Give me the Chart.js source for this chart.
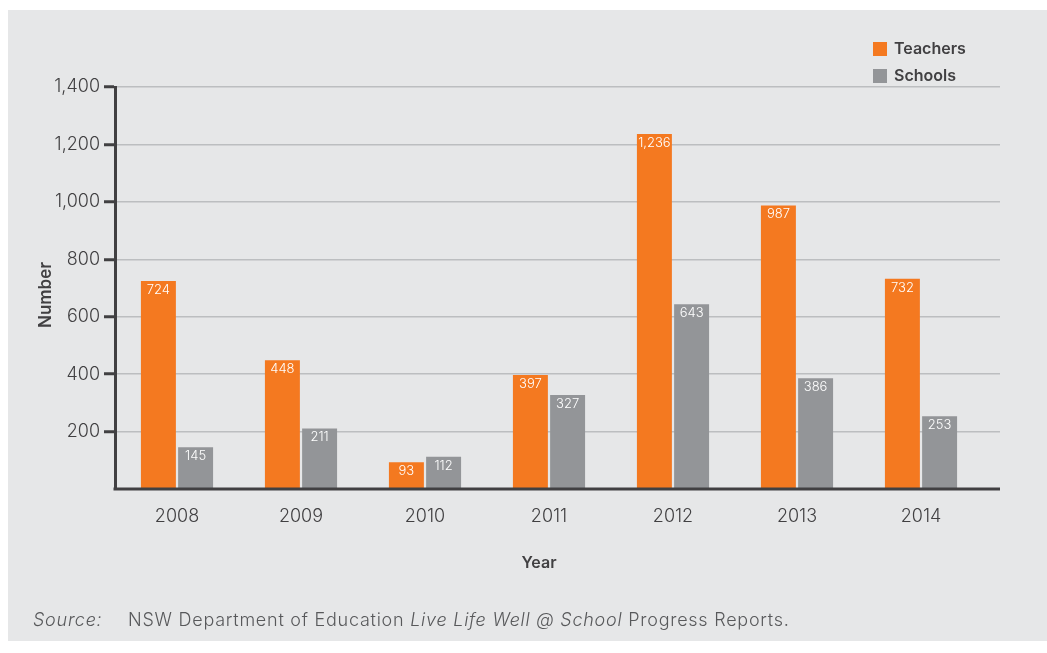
<!DOCTYPE html>
<html>
<head>
<meta charset="utf-8">
<script src="https://cdn.jsdelivr.net/npm/chart.js@4.4.1/dist/chart.umd.min.js"></script>
<style>
  html, body { margin: 0; padding: 0; background: #ffffff; }
  #panel {
    position: absolute; left: 8px; top: 10px; width: 1039px; height: 631px;
    background: #e6e7e8;
  }
  #wrap { position: absolute; left: 0; top: 0; width: 1047px; height: 653px; }
  #source {
    position: absolute; left: 33px; top: 609px;
    font-family: "Inter", "Noto Sans", sans-serif; font-size: 18px; color: #58595b;
    white-space: nowrap; font-weight: 300; letter-spacing: 0.75px;
  }
  #source .lbl { font-style: italic; display: inline-block; width: 95px; }
  #source i { font-style: italic; }
</style>
</head>
<body>
<div id="panel"></div>
<div id="wrap"><canvas id="chart" width="1047" height="653"></canvas></div>
<div id="source"><span class="lbl">Source:</span>NSW Department of Education <i>Live Life Well @ School</i> Progress Reports.</div>
<script>
const years = ['2008', '2009', '2010', '2011', '2012', '2013', '2014'];
const teachers = [724, 448, 93, 397, 1236, 987, 732];
const schools = [145, 211, 112, 327, 643, 386, 253];
const yTicks = [200, 400, 600, 800, 1000, 1200, 1400];
const xTitle = 'Year';
const yTitle = 'Number';

const FONT = '"Inter", "Noto Sans", sans-serif';
const TEXT = '#414042';
const ORANGE = '#f47920';
const GREY = '#939598';
const RIGHT_GAP = 17; // empty run of axis after the last year

// Leave a short empty stretch at the right end of the category axis
const categoryInset = {
  id: 'categoryInset',
  afterLayout(chart) {
    const x = chart.scales.x;
    x.right -= RIGHT_GAP;
    x.width -= RIGHT_GAP;
    x.configure();
  }
};

// Baseline across the full plot width, then white value labels inside each bar top
const valueLabels = {
  id: 'valueLabels',
  afterDatasetsDraw(chart) {
    const ctx = chart.ctx;
    const a = chart.chartArea;
    ctx.save();
    ctx.strokeStyle = TEXT;
    ctx.lineWidth = 3;
    ctx.beginPath();
    ctx.moveTo(a.left - 1.5, a.bottom);
    ctx.lineTo(a.right, a.bottom);
    ctx.stroke();

    ctx.fillStyle = '#ffffff';
    ctx.font = '300 13px ' + FONT;
    ctx.textAlign = 'center';
    ctx.textBaseline = 'middle';
    chart.data.datasets.forEach((ds, i) => {
      chart.getDatasetMeta(i).data.forEach((bar, j) => {
        ctx.fillText(ds.data[j].toLocaleString('en-US'), bar.x, bar.y + 9);
      });
    });
    ctx.restore();
  }
};

// Axis titles, legend stacked in the top-right corner
const annotations = {
  id: 'annotations',
  afterDraw(chart) {
    const ctx = chart.ctx;
    const a = chart.chartArea;
    ctx.save();
    ctx.fillStyle = TEXT;
    ctx.textAlign = 'center';
    ctx.textBaseline = 'middle';
    ctx.font = '600 16px ' + FONT;
    ctx.fillText(xTitle, a.left + 424, a.bottom + 74);
    ctx.save();
    ctx.translate(46, a.top + 208);
    ctx.rotate(-Math.PI / 2);
    ctx.font = '600 17px ' + FONT;
    ctx.fillText(yTitle, 0, 0);
    ctx.restore();

    ctx.textAlign = 'left';
    ctx.font = '600 16px ' + FONT;
    chart.data.datasets.forEach((ds, i) => {
      const y = 48 + i * 27;
      ctx.fillStyle = ds.backgroundColor;
      ctx.fillRect(873, y - 6, 14, 14);
      ctx.fillStyle = TEXT;
      ctx.fillText(ds.label, 894, y + 1);
    });
    ctx.restore();
  }
};

new Chart(document.getElementById('chart'), {
  type: 'bar',
  data: {
    labels: years,
    datasets: [
      { label: 'Teachers', data: teachers, backgroundColor: ORANGE },
      { label: 'Schools', data: schools, backgroundColor: GREY }
    ]
  },
  options: {
    responsive: false,
    animation: false,
    categoryPercentage: 0.6,
    barPercentage: 0.94,
    layout: { padding: { left: 30, right: 47, top: 87, bottom: 76 } },
    plugins: { legend: { display: false }, tooltip: { enabled: false } },
    scales: {
      x: {
        afterFit(scale) { scale.height = 88; },
        grid: { display: false, drawTicks: false },
        border: { display: false },
        ticks: { color: TEXT, font: { family: FONT, size: 18, weight: 300 }, padding: 17 },
        title: { display: false }
      },
      y: {
        min: 0, max: 1400,
        afterBuildTicks(scale) { scale.ticks = yTicks.map(v => ({ value: v })); },
        afterFit(scale) { scale.width = 85; },
        grid: { color: '#bcbec0', lineWidth: 1.5, tickColor: TEXT, tickLength: 11, tickWidth: 3 },
        border: { display: true, color: TEXT, width: 3 },
        ticks: { color: TEXT, font: { family: FONT, size: 18, weight: 300 }, padding: 4,
                 callback: v => v.toLocaleString('en-US') },
        title: { display: false }
      }
    }
  },
  plugins: [categoryInset, valueLabels, annotations]
});
</script>
</body>
</html>
